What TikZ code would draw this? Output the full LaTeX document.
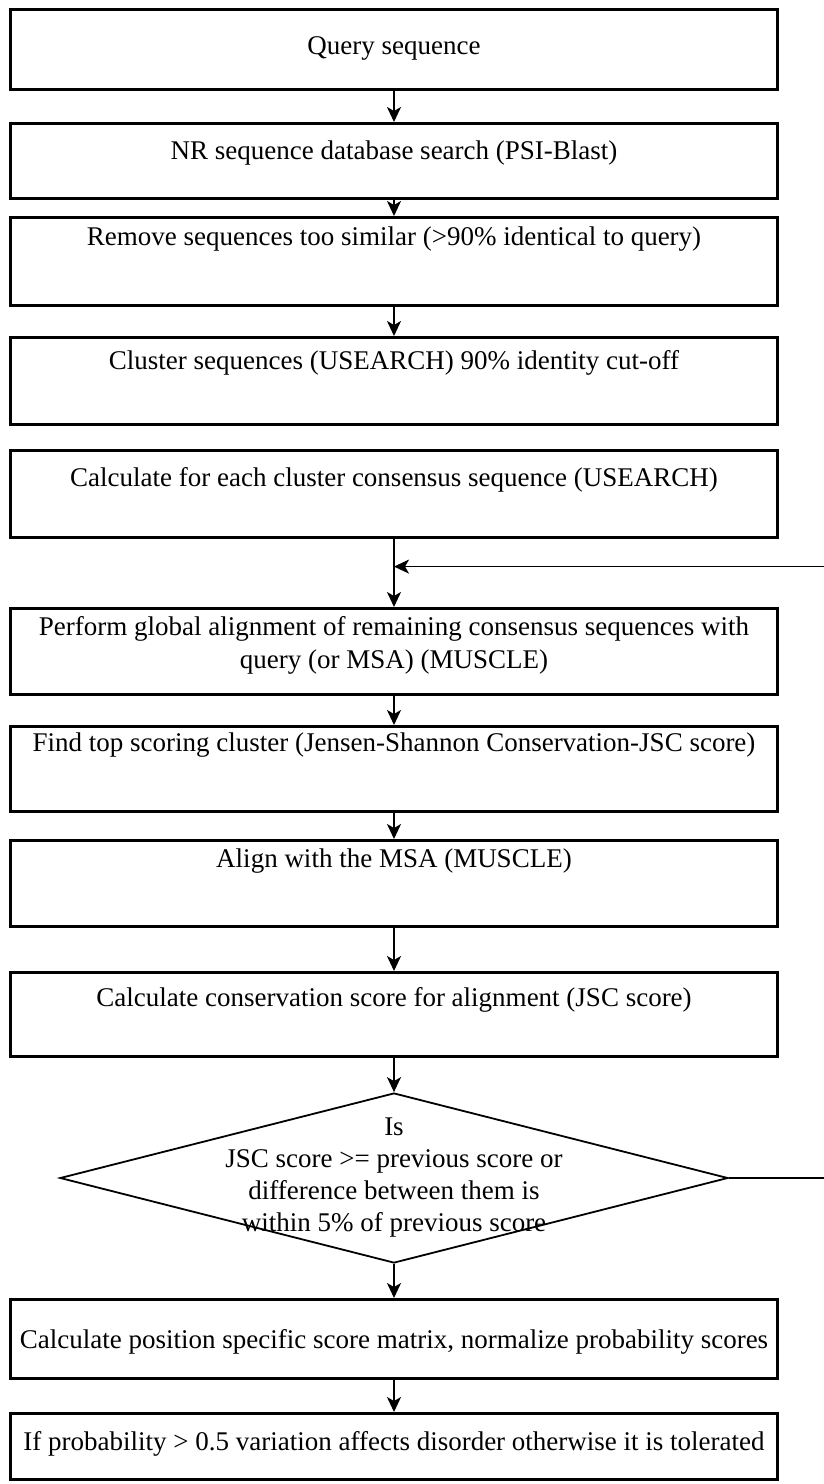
\documentclass[tikz,border=0pt]{standalone}
\usepackage{fontspec}
\setmainfont{Liberation Serif}
\usepackage{tikz}
\usetikzlibrary{calc,positioning,arrows.meta,shapes.geometric}

\tikzset{
  blk/.style={draw, line width=2.5pt, minimum width=767pt, inner sep=0pt, anchor=north, font=\fontsize{27}{33}\selectfont},
  flow/.style={line width=1.8pt, -{Stealth[length=15pt,width=14pt,inset=4pt]}},
}

\begin{document}
\begin{tikzpicture}[x=1pt,y=-1pt]
  \useasboundingbox (0,0) rectangle (824,1484);

  \node[blk, text height=45pt, text depth=35pt] at (394,8) (blk1) {Query sequence};
  \node[blk, text height=36pt, text depth=39pt] at (394,122) (blk2) {NR sequence database search (PSI-Blast)};
  \node[blk, text height=28pt, text depth=60pt] at (394,216) (blk3) {Remove sequences too similar (>90\% identical to query)};
  \node[blk, text height=32pt, text depth=55pt] at (394,336) (blk4) {Cluster sequences (USEARCH) 90\% identity cut-off};
  \node[blk, text height=36pt, text depth=51pt] at (394,449) (blk5) {Calculate for each cluster consensus sequence (USEARCH)};
  \node[blk, minimum height=86pt, align=center] at (394,607) (blk6) {Perform global alignment of remaining consensus sequences with\\query (or MSA) (MUSCLE)\rule[-18pt]{0pt}{18pt}};
  \node[blk, text height=25pt, text depth=60pt] at (394,725) (blk7) {Find top scoring cluster (Jensen-Shannon Conservation-JSC score)};
  \node[blk, text height=27pt, text depth=59pt] at (394,839) (blk8) {Align with the MSA (MUSCLE)};
  \node[blk, text height=34pt, text depth=50pt] at (394,971) (blk9) {Calculate conservation score for alignment (JSC score)};
  \node[draw, diamond, line width=1.8pt, minimum width=668pt, minimum height=170pt, inner sep=0pt] at (394,1178) (dec) {};
  \node[align=center, font=\fontsize{27}{32}\selectfont] at (dec.center) (dectxt) {Is\\JSC score >= previous score or\\difference between them is\\within 5\% of previous score};
  \node[blk, text height=49pt, text depth=30pt] at (394,1298) (blk10) {Calculate position specific score matrix, normalize probability scores};
  \node[blk, text height=37pt, text depth=29pt] at (394,1412) (blk11) {If probability > 0.5 variation affects disorder otherwise it is tolerated};

  \draw[flow] (blk1) -- (blk2);
  \draw[flow] (blk2) -- (blk3);
  \draw[flow] (blk3) -- (blk4);
  \draw[flow] (blk5.south) -- (blk6.north);
  \coordinate (join) at ($(blk5.south)!0.41!(blk6.north)$);
  \draw[flow] (blk6) -- (blk7);
  \draw[flow] (blk7) -- (blk8);
  \draw[flow] (blk8) -- (blk9);
  \draw[flow] (blk9) -- (dec);
  \draw[flow] (dec) -- (blk10);
  \draw[flow] (blk10) -- (blk11);
  \draw[flow] (dec.east) -- ++(106,0) coordinate (back) -- (back |- join) -- (join);

\end{tikzpicture}
\end{document}
